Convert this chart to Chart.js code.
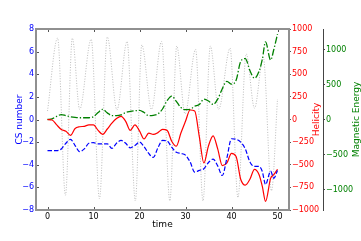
<!DOCTYPE html>
<html>
<head>
<meta charset="utf-8">
<script src="https://cdn.jsdelivr.net/npm/chart.js@4/dist/chart.umd.min.js"></script>
<style>
  html, body { margin: 0; padding: 0; background: #fff; }
</style>
</head>
<body>
<canvas id="chart" width="361" height="241"></canvas>
<script>
Chart.defaults.font.family = "'DejaVu Sans', sans-serif";
Chart.defaults.font.size = 8;
Chart.defaults.color = '#000';

// shared time axis for the three main curves
const time = [0, 1, 2, 3, 4, 5, 6, 7, 8, 9, 10, 11, 12, 13, 14, 15, 16, 17, 18, 19,
    20, 21, 22, 23, 24, 25, 26, 27, 28, 29, 30, 31, 32, 33, 34, 35, 36, 37, 38, 39,
    40, 41, 42, 43, 44, 45, 46, 46.7, 47.4, 48.5, 49.2, 50];

const csNumber = [-2.75, -2.75, -2.75, -2.6, -2.1, -1.75, -2.3, -2.85, -2.6, -2.1,
    -2.05, -2.15, -2.15, -2.15, -2.55, -2.1, -1.85, -2.1, -2.5, -2.3,
    -2.0, -2.4, -3.0, -3.35, -2.5, -1.85, -1.9, -2.45, -2.9, -3.0,
    -3.15, -3.75, -4.65, -4.5, -4.35, -3.8, -3.5, -4.1, -4.95, -3.4,
    -1.7, -1.75, -2.0, -2.6, -3.75, -4.15, -4.15, -4.6, -5.75, -4.57, -5.2, -4.5];

const helicity = [0, -5, -60, -110, -130, -175, -100, -80, -75, -60,
    -60, -120, -165, -105, -40, 10, 35, -20, -120, -60,
    -125, -215, -150, -165, -145, -110, -120, -240, -295, -150,
    -20, 105, 95, -190, -480, -290, -180, -325, -510, -480,
    -375, -410, -660, -725, -660, -550, -610, -740, -905, -650, -610, -550];

const magEnergy = [0, 10, 45, 70, 55, 40, 30, 25, 25, 25,
    40, 100, 145, 95, 55, 55, 65, 100, 115, 125,
    130, 100, 55, 60, 80, 150, 270, 335, 260, 170,
    140, 145, 190, 215, 290, 265, 215, 290, 440, 545,
    505, 560, 830, 870, 700, 590, 690, 860, 1110, 850, 1000, 1220];

// background oscillation (grey dotted), peaks and troughs
const oscTime = [0, 2.2, 3.9, 5.4, 7.0, 9.5, 11.3, 13.0, 15.1, 17.3, 19.1, 20.5, 22.6, 24.8,
    26.6, 28.1, 29.9, 32.2, 33.8, 35.4, 37.2, 39.7, 41.4, 43.2, 45.0, 46.9, 48.7, 50.0];
const oscValue = [0.75, 7.2, -6.7, 7.2, 0.9, 7.1, -7.0, 7.3, 0.85, 6.9, -7.2, 6.6, 0.9, 6.9,
    -7.2, 6.5, 0.5, 6.2, -7.2, 6.5, 0.9, 6.3, -6.9, 5.8, 1.0, 5.5, -6.3, 1.8];

const xTicks = [0, 10, 20, 30, 40, 50];
const csTicks = [-8, -6, -4, -2, 0, 2, 4, 6, 8];
const helicityTicks = [-1000, -750, -500, -250, 0, 250, 500, 750, 1000];
const energyTicks = [-1000, -500, 0, 500, 1000];

const BLUE = '#0000ff', RED = '#ff0000', GREEN = '#008000';

const pts = (xs, ys) => xs.map((x, i) => ({ x: x, y: ys[i] }));
const minus = v => String(v).replace('-', '\u2212');
const fixTicks = list => scale => { scale.ticks = list.map(v => ({ value: v })); };

// grey frame with inward ticks, plus the rotated right-hand titles
const framePlugin = {
    id: 'frame',
    afterDraw(chart) {
        const { ctx, chartArea: a, scales } = chart;
        ctx.save();
        ctx.strokeStyle = '#555';
        ctx.lineWidth = 1;
        ctx.beginPath();
        xTicks.forEach(v => {
            const px = Math.round(scales.x.getPixelForValue(v)) + 0.5;
            ctx.moveTo(px, a.top); ctx.lineTo(px, a.top + 3);
            ctx.moveTo(px, a.bottom); ctx.lineTo(px, a.bottom - 3);
        });
        csTicks.forEach(v => {
            const py = Math.round(scales.y.getPixelForValue(v)) + 0.5;
            ctx.moveTo(a.left, py); ctx.lineTo(a.left + 3, py);
        });
        ctx.stroke();

        ctx.strokeStyle = '#909090';
        ctx.lineWidth = 2;
        ctx.strokeRect(a.left, a.top, a.right - a.left, a.bottom - a.top);

        ctx.font = "9px 'DejaVu Sans', sans-serif";
        ctx.textAlign = 'center';
        ctx.textBaseline = 'middle';
        const midY = (a.top + a.bottom) / 2;
        [['Helicity', RED, 316.5], ['Magnetic Energy', GREEN, 356.5]].forEach(([txt, col, x]) => {
            ctx.save();
            ctx.translate(x, midY);
            ctx.rotate(-Math.PI / 2);
            ctx.fillStyle = col;
            ctx.fillText(txt, 0, 0);
            ctx.restore();
        });
        ctx.restore();
    }
};

const line = (data, color, axis, dash, width) => ({
    data: data,
    yAxisID: axis,
    borderColor: color,
    borderWidth: width,
    borderDash: dash,
    pointRadius: 0,
    fill: false,
    cubicInterpolationMode: 'monotone'
});

new Chart(document.getElementById('chart'), {
    type: 'line',
    data: {
        datasets: [
            line(pts(time, csNumber), BLUE, 'y', [4.5, 2], 1.2),
            line(pts(time, helicity), RED, 'yH', [], 1.2),
            line(pts(time, magEnergy), GREEN, 'yE', [7, 2, 1.3, 2], 1.3),
            line(pts(oscTime, oscValue), '#b4b4b4', 'y', [1, 1.6], 0.9)
        ]
    },
    options: {
        responsive: false,
        animation: false,
        layout: { padding: { top: 29, right: 0, bottom: 0, left: 0 } },
        plugins: { legend: { display: false }, tooltip: { enabled: false } },
        scales: {
            x: {
                type: 'linear',
                min: -2.5,
                max: 52.5,
                afterBuildTicks: fixTicks(xTicks),
                afterFit: s => { s.height = 31; },
                grid: { display: false, drawTicks: false },
                border: { display: false },
                ticks: { padding: 2, callback: minus },
                title: { display: true, text: 'time', font: { size: 9 }, padding: { top: 0, bottom: 10.6 } }
            },
            y: {
                position: 'left',
                min: -8,
                max: 8,
                afterBuildTicks: fixTicks(csTicks),
                afterFit: s => { s.width = 36; },
                grid: { display: false, drawTicks: false },
                border: { display: false },
                ticks: { color: BLUE, padding: 2, callback: minus },
                title: { display: true, text: 'CS number', color: BLUE, font: { size: 9 }, padding: { top: 14, bottom: 0 } }
            },
            yH: {
                position: 'right',
                min: -1000,
                max: 1000,
                afterBuildTicks: fixTicks(helicityTicks),
                afterFit: s => { s.width = 34; },
                grid: { display: true, drawOnChartArea: false, drawTicks: true, tickLength: 2, color: '#555' },
                border: { display: false },
                ticks: { color: RED, padding: 1, callback: minus }
            },
            yE: {
                position: 'right',
                min: -1293,
                max: 1293,
                afterBuildTicks: fixTicks(energyTicks),
                afterFit: s => { s.width = 38; },
                grid: { display: true, drawOnChartArea: false, drawTicks: true, tickLength: 2, color: '#444' },
                border: { display: true, color: '#444', width: 1 },
                ticks: { color: GREEN, padding: 1, callback: minus }
            }
        }
    },
    plugins: [framePlugin]
});
</script>
</body>
</html>
